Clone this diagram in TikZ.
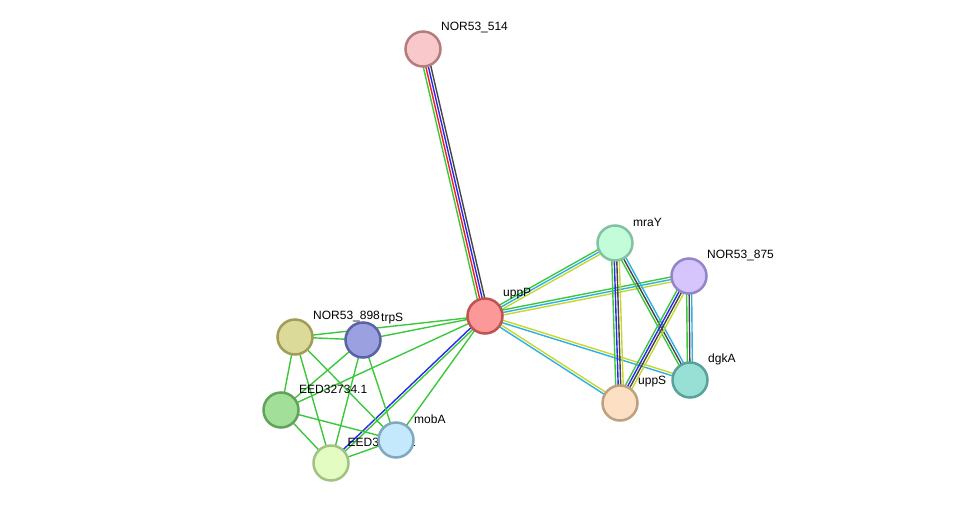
\documentclass[tikz,border=0pt]{standalone}
\usepackage{fontspec}
\setmainfont{Liberation Sans}
\usetikzlibrary{calc}
\pgfdeclarelayer{edges}
\pgfsetlayers{edges,main}
\definecolor{eG}{HTML}{3CC83C}
\definecolor{eR}{HTML}{F02020}
\definecolor{eB}{HTML}{2828F0}
\definecolor{eK}{HTML}{454545}
\definecolor{eC}{HTML}{30B0E0}
\definecolor{eY}{HTML}{C4D830}
\tikzset{
  prot/.style={circle,minimum size=35pt,inner sep=0pt,line width=2.5pt},
  lab/.style={anchor=west,inner sep=0pt,font=\fontsize{12}{14}\selectfont},
  eline/.style={line width=1.4pt},
}
\newcommand\stredge[3]{%
  \foreach \o/\c in {#3}{%
    \draw[eline,\c] ($(#1.center)!\o pt!90:(#2.center)$) -- ($(#2.center)!\o pt!-90:(#1.center)$);}}
\newcommand\protnode[5]{%
  \definecolor{fill#1}{HTML}{#4}\definecolor{draw#1}{HTML}{#5}%
  \node[prot,fill=fill#1,draw=draw#1] (#1) at (#2,#3) {};}
\begin{document}
\begin{tikzpicture}[x=1pt,y=-1pt]
\useasboundingbox (0,0) rectangle (975,509);
% nodes
\protnode{n514}{423}{49}{F8C8CA}{B57C7C}
\node[lab] at ($(n514.center)+(18,-21)$) {NOR53\_514};
\protnode{mray}{615}{243}{C2FCD8}{82C2A2}
\node[lab] at ($(mray.center)+(18,-21)$) {mraY};
\protnode{n875}{689}{276}{D6C4FC}{9484CA}
\node[lab] at ($(n875.center)+(18,-21)$) {NOR53\_875};
\protnode{dgka}{690}{380}{98E0D6}{5AA19A}
\node[lab] at ($(dgka.center)+(18,-21)$) {dgkA};
\protnode{upps}{620}{403}{FDE0C4}{BEA080}
\node[lab] at ($(upps.center)+(18,-21)$) {uppS};
\protnode{n898}{295}{337}{DCDA98}{A19D58}
\node[lab] at ($(n898.center)+(18,-21)$) {NOR53\_898};
\protnode{trps}{363}{340}{9AA0E0}{5A62A4}
\node[lab] at ($(trps.center)+(18,-21)$) {trpS};
\protnode{e734}{281}{410}{A2E09A}{62A25A}
\node[lab] at ($(e734.center)+(18,-21)$) {EED32734.1};
\protnode{bot}{331}{463}{E2FCC2}{A2C284}
\node[lab] at ($(bot.center)+(16.5,-21)$) {EED32733.1};
\protnode{moba}{396}{440}{C4E8FC}{80A8C0}
\node[lab] at ($(moba.center)+(18,-21)$) {mobA};
\protnode{uppp}{485}{316}{FC9898}{C05252}
\node[lab] at ($(uppp.center)+(18,-22)$) {uppP};
% edges
\begin{pgfonlayer}{edges}
\stredge{n514}{uppp}{3.75/eK,1.25/eB,-1.25/eR,-3.75/eG}
\stredge{uppp}{mray}{2.5/eG,0/eC,-2.5/eY}
\stredge{uppp}{n875}{2.5/eG,0/eC,-2.5/eY}
\stredge{uppp}{dgka}{1.25/eY,-1.25/eC}
\stredge{uppp}{upps}{1.25/eY,-1.25/eC}
\stredge{uppp}{n898}{0/eG}
\stredge{uppp}{trps}{0/eG}
\stredge{uppp}{e734}{0/eG}
\stredge{uppp}{moba}{0/eG}
\stredge{uppp}{bot}{1.25/eG,-1.25/eB}
\stredge{mray}{upps}{3.75/eY,1.25/eK,-1.25/eB,-3.75/eG}
\stredge{mray}{dgka}{2.5/eC,0/eK,-2.5/eG}
\stredge{n875}{upps}{3.75/eY,1.25/eK,-1.25/eB,-3.75/eG}
\stredge{n875}{dgka}{2.5/eC,0/eK,-2.5/eG}
\stredge{n898}{trps}{0/eG}
\stredge{n898}{e734}{0/eG}
\stredge{n898}{bot}{0/eG}
\stredge{n898}{moba}{0/eG}
\stredge{trps}{e734}{0/eG}
\stredge{trps}{bot}{0/eG}
\stredge{trps}{moba}{0/eG}
\stredge{e734}{bot}{0/eG}
\stredge{e734}{moba}{0/eG}
\stredge{bot}{moba}{0/eG}
\end{pgfonlayer}
\end{tikzpicture}
\end{document}
